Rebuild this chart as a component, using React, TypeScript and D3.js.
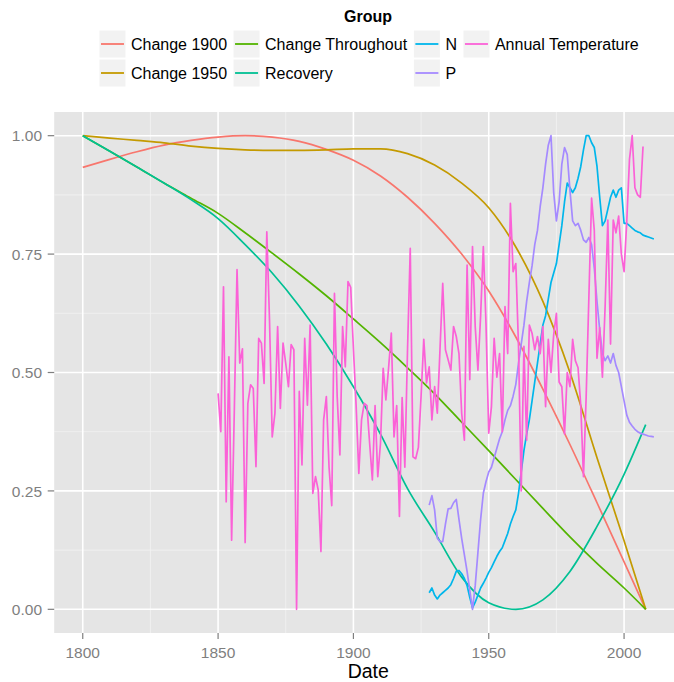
import React from "react";
import * as d3 from "d3";

const W = 674;
const H = 682;

// smooth reference curves, read every 10 years
const curveYears = [1800, 1810, 1820, 1830, 1840, 1850, 1860, 1870, 1880, 1890, 1900,
  1910, 1920, 1930, 1940, 1950, 1960, 1970, 1980, 1990, 2000, 2008];
const change1900 = [0.933, 0.95, 0.966, 0.98, 0.99, 0.997, 1.0, 0.997, 0.988, 0.971, 0.948,
  0.915, 0.87, 0.815, 0.75, 0.672, 0.575, 0.465, 0.348, 0.225, 0.1, 0];
const change1950 = [1.0, 0.995, 0.99, 0.985, 0.978, 0.973, 0.97, 0.969, 0.969, 0.97, 0.972,
  0.972, 0.962, 0.938, 0.9, 0.848, 0.765, 0.65, 0.5, 0.32, 0.145, 0];
const changeThroughout = [1.0, 0.967, 0.934, 0.9, 0.868, 0.836, 0.795, 0.752, 0.708, 0.662, 0.613,
  0.563, 0.51, 0.455, 0.395, 0.335, 0.274, 0.213, 0.153, 0.097, 0.045, 0];
const recovery = [1.0, 0.967, 0.934, 0.9, 0.865, 0.825, 0.77, 0.71, 0.64, 0.56, 0.47,
  0.37, 0.255, 0.163, 0.068, 0.014, 0, 0.02, 0.08, 0.175, 0.285, 0.39];

// yearly series
const nStart = 1928;
const nValues = [
  0.035, 0.045, 0.03, 0.022, 0.03, 0.035, 0.04, 0.045, 0.052, 0.065,
  0.08, 0.082, 0.075, 0.065, 0.05, 0.025, 0.003, 0.015, 0.03, 0.045,
  0.055, 0.066, 0.078, 0.088, 0.1, 0.112, 0.122, 0.13, 0.145, 0.16,
  0.18, 0.196, 0.21, 0.245, 0.29, 0.335, 0.37, 0.4, 0.44, 0.48,
  0.52, 0.56, 0.6, 0.62, 0.655, 0.69, 0.71, 0.73, 0.77, 0.81,
  0.86, 0.9, 0.89, 0.88, 0.89, 0.91, 0.935, 0.97, 1.0, 1.0,
  0.985, 0.975, 0.935, 0.87, 0.81, 0.82, 0.845, 0.87, 0.885, 0.87,
  0.885, 0.89, 0.815, 0.815, 0.81, 0.805, 0.8, 0.797, 0.795, 0.79,
  0.788, 0.786, 0.784, 0.782,
];
const pStart = 1928;
const pValues = [
  0.22, 0.24, 0.21, 0.15, 0.143, 0.143, 0.18, 0.212, 0.213, 0.225,
  0.232, 0.19, 0.15, 0.115, 0.08, 0.04, 0.0, 0.05, 0.12, 0.19,
  0.245, 0.27, 0.29, 0.3, 0.32, 0.34, 0.36, 0.375, 0.4, 0.42,
  0.43, 0.45, 0.475, 0.52, 0.56, 0.6, 0.65, 0.69, 0.725, 0.77,
  0.8, 0.85, 0.89, 0.94, 0.98, 1.0, 0.88, 0.82, 0.86, 0.94,
  0.975, 0.96, 0.885, 0.82, 0.81, 0.815, 0.8, 0.78, 0.775, 0.785,
  0.77, 0.72, 0.65, 0.59, 0.54, 0.525, 0.535, 0.52, 0.54, 0.515,
  0.5, 0.47, 0.44, 0.41, 0.395, 0.387, 0.38, 0.375, 0.372, 0.37,
  0.368, 0.366, 0.365, 0.364,
];
const tempStart = 1850;
const tempValues = [
  0.456, 0.375, 0.681, 0.227, 0.533, 0.146, 0.42, 0.717, 0.52, 0.55,
  0.141, 0.435, 0.474, 0.466, 0.301, 0.572, 0.562, 0.477, 0.797, 0.611,
  0.364, 0.414, 0.597, 0.424, 0.562, 0.519, 0.47, 0.559, 0.548, 0,
  0.46, 0.305, 0.572, 0.431, 0.6, 0.245, 0.28, 0.252, 0.122, 0.4,
  0.449, 0.3, 0.219, 0.667, 0.45, 0.326, 0.597, 0.512, 0.692, 0.68,
  0.55, 0.43, 0.287, 0.4, 0.435, 0.43, 0.35, 0.273, 0.43, 0.28,
  0.35, 0.509, 0.442, 0.51, 0.583, 0.364, 0.43, 0.196, 0.447, 0.3,
  0.55, 0.762, 0.322, 0.318, 0.342, 0.45, 0.57, 0.478, 0.512, 0.4,
  0.47, 0.414, 0.55, 0.688, 0.548, 0.527, 0.505, 0.597, 0.576, 0.54,
  0.414, 0.357, 0.727, 0.485, 0.766, 0.597, 0.505, 0.62, 0.766, 0.6,
  0.372, 0.428, 0.572, 0.49, 0.54, 0.375, 0.639, 0.54, 0.857, 0.713,
  0.73, 0.555, 0.25, 0.555, 0.357, 0.6, 0.583, 0.548, 0.576, 0.54,
  0.597, 0.428, 0.57, 0.5, 0.58, 0.625, 0.48, 0.47, 0.37, 0.5,
  0.47, 0.57, 0.525, 0.51, 0.43, 0.28, 0.45, 0.66, 0.868, 0.8,
  0.53, 0.595, 0.49, 0.64, 0.822, 0.56, 0.822, 0.795, 0.83, 0.75,
  0.713, 0.82, 0.95, 1.0, 0.89, 0.875, 0.87, 0.977,
];

const groups = ["Change 1900", "Change 1950", "Change Throughout", "Recovery", "N", "P", "Annual Temperature"];
const groupColors = ["#F8766D", "#C49A00", "#53B400", "#00C094", "#00B6EB", "#A58AFF", "#FB61D7"];
// legend is filled by column, two rows
const legendColumns = [["Change 1900", "Change 1950"], ["Change Throughout", "Recovery"], ["N", "P"], ["Annual Temperature"]];

const xTicks = [1800, 1850, 1900, 1950, 2000];
const xMinor = [1825, 1875, 1925, 1975];
const yTicks = [0, 0.25, 0.5, 0.75, 1.0];
const yMinor = [0.125, 0.375, 0.625, 0.875];

const FONT = "'Liberation Sans', Arial, Helvetica, sans-serif";

type Pt = { year: number; value: number };

const yearly = (start: number, vals: number[]): Pt[] => vals.map((v, i) => ({ year: start + i, value: v }));
const sampled = (vals: number[]): Pt[] => vals.map((v, i) => ({ year: curveYears[i], value: v }));

const series: { name: string; pts: Pt[]; smooth: boolean }[] = [
  { name: "Change 1900", pts: sampled(change1900), smooth: true },
  { name: "Change 1950", pts: sampled(change1950), smooth: true },
  { name: "Change Throughout", pts: sampled(changeThroughout), smooth: true },
  { name: "Recovery", pts: sampled(recovery), smooth: true },
  { name: "N", pts: yearly(nStart, nValues), smooth: false },
  { name: "P", pts: yearly(pStart, pValues), smooth: false },
  { name: "Annual Temperature", pts: yearly(tempStart, tempValues), smooth: false },
];

const measureText = (t: string, font: string) => {
  const ctx = document.createElement("canvas").getContext("2d");
  if (!ctx) return t.length * 8;
  ctx.font = font;
  return ctx.measureText(t).width;
};

const App = () => {
  const panel = { left: 54.2, top: 112, right: 682.4, bottom: 633 };

  const allYears = series.flatMap(s => s.pts.map(p => p.year));
  const [x0, x1] = d3.extent(allYears) as [number, number];
  const xPad = (x1 - x0) * 0.05;
  const x = d3.scaleLinear().domain([x0 - xPad, x1 + xPad]).range([panel.left, panel.right]);
  const y = d3.scaleLinear().domain([-0.05, 1.05]).range([panel.bottom, panel.top]);

  const color = d3.scaleOrdinal<string, string>().domain(groups).range(groupColors);

  const lineLinear = d3.line<Pt>().x(d => x(d.year)).y(d => y(d.value));
  const lineSmooth = d3.line<Pt>().x(d => x(d.year)).y(d => y(d.value)).curve(d3.curveMonotoneX);

  // legend layout
  const legendFont = `16px ${FONT}`;
  const keyW = 27, keyH = 28, textGap = 5, colGap = 6;
  const colWidths = legendColumns.map(col => keyW + textGap + d3.max(col, t => measureText(t, legendFont))!);
  const legendW = d3.sum(colWidths) + colGap * (colWidths.length - 1);
  const legendCx = 369;
  const legendLeft = legendCx - legendW / 2;
  const colX: number[] = [];
  colWidths.reduce((acc, w) => { colX.push(acc); return acc + w + colGap; }, legendLeft);
  const rowTop = [30, 59];

  return (
    <div style={{ position: "absolute", left: 0, top: 0 }}>
      <svg width={W} height={H} style={{ display: "block", background: "#fff" }} fontFamily={FONT}>
        {/* legend */}
        <text x={legendCx - 1} y={22} textAnchor="middle" fontSize={16} fontWeight="bold" fill="#000">Group</text>
        {legendColumns.map((col, ci) =>
          col.map((name, ri) => (
            <g key={name} transform={`translate(${colX[ci]},${rowTop[ri]})`}>
              <rect x={0} y={0} width={keyW} height={keyH} fill="#F2F2F2" stroke="#fff" strokeWidth={1} />
              <line x1={2} x2={keyW - 2} y1={keyH / 2} y2={keyH / 2} stroke={color(name)} strokeWidth={1.8} />
              <text x={keyW + textGap} y={keyH / 2 + 5.8} fontSize={16} fill="#000">{name}</text>
            </g>
          ))
        )}

        {/* panel */}
        <rect x={panel.left} y={panel.top} width={panel.right - panel.left} height={panel.bottom - panel.top} fill="#E5E5E5" />
        {xMinor.map(t => (
          <line key={`xm${t}`} x1={x(t)} x2={x(t)} y1={panel.top} y2={panel.bottom} stroke="#F2F2F2" strokeWidth={0.8} />
        ))}
        {yMinor.map(t => (
          <line key={`ym${t}`} x1={panel.left} x2={panel.right} y1={y(t)} y2={y(t)} stroke="#F2F2F2" strokeWidth={0.8} />
        ))}
        {xTicks.map(t => (
          <line key={`xg${t}`} x1={x(t)} x2={x(t)} y1={panel.top} y2={panel.bottom} stroke="#fff" strokeWidth={1.6} />
        ))}
        {yTicks.map(t => (
          <line key={`yg${t}`} x1={panel.left} x2={panel.right} y1={y(t)} y2={y(t)} stroke="#fff" strokeWidth={1.6} />
        ))}

        {/* data */}
        {series.map(s => (
          <path key={s.name} d={(s.smooth ? lineSmooth : lineLinear)(s.pts) || ""} fill="none"
            stroke={color(s.name)} strokeWidth={1.7} strokeLinejoin="round" />
        ))}

        {/* axes */}
        {xTicks.map(t => (
          <g key={`xt${t}`}>
            <line x1={x(t)} x2={x(t)} y1={panel.bottom} y2={panel.bottom + 6} stroke="#7F7F7F" strokeWidth={1.2} />
            <text x={x(t)} y={658} textAnchor="middle" fontSize={15.5} fill="#7F7F7F">{t}</text>
          </g>
        ))}
        {yTicks.map(t => (
          <g key={`yt${t}`}>
            <line x1={panel.left - 6.5} x2={panel.left} y1={y(t)} y2={y(t)} stroke="#7F7F7F" strokeWidth={1.2} />
            <text x={42} y={y(t) + 5.6} textAnchor="end" fontSize={15.5} fill="#7F7F7F">{d3.format(".2f")(t)}</text>
          </g>
        ))}
        <text x={(panel.left + panel.right) / 2} y={678} textAnchor="middle" fontSize={19.5} fill="#000">Date</text>
      </svg>
    </div>
  );
};

export default App;
